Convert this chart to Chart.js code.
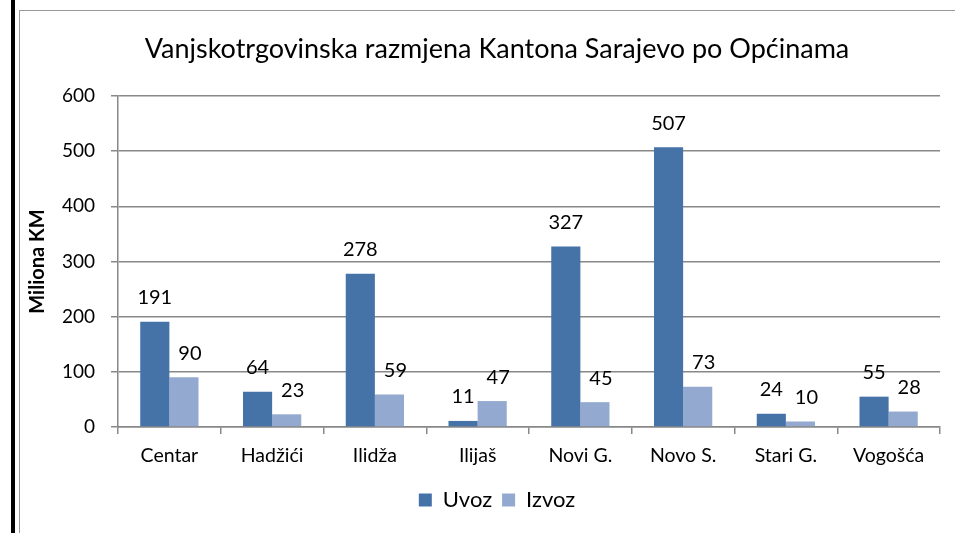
<!DOCTYPE html>
<html lang="bs">
<head>
  <meta charset="UTF-8" />
  <title>Vanjskotrgovinska razmjena Kantona Sarajevo po Općinama</title>
  <script src="https://cdn.jsdelivr.net/npm/chart.js"></script>
  <style>
    html, body { margin: 0; padding: 0; background: #fff; overflow: hidden; }
    .page { position: relative; width: 955px; height: 533px; overflow: hidden; }
    .leftbar { position: absolute; left: 11px; top: 0; width: 4px; height: 533px; background: #000; }
    .frame { position: absolute; left: 19px; top: 10px; width: 960px; height: 560px; border: 1.5px solid #999; }
    /* okvir grafikona ide preko desne ivice, kao u originalu */
    .chart-wrapper { position: absolute; left: 0; top: 0; width: 972px; height: 533px; }
  </style>
</head>
<body>
<div class="page">
  <div class="leftbar"></div>
  <div class="frame"></div>
  <div class="chart-wrapper">
    <canvas id="tradeChart"></canvas>
  </div>
</div>

<script>
// podaci očitani sa grafikona (miliona KM)
const opcine = ["Centar", "Hadžići", "Ilidža", "Ilijaš", "Novi G.", "Novo S.", "Stari G.", "Vogošća"];
const uvoz = [191, 64, 278, 11, 327, 507, 24, 55];
const izvoz = [90, 23, 59, 47, 45, 73, 10, 28];
const yTicks = [0, 100, 200, 300, 400, 500, 600];

const FONT = "Lato, 'Open Sans', sans-serif";

// oznake vrijednosti iznad stubaca
const valueLabels = {
  id: "valueLabels",
  afterDatasetsDraw(chart) {
    const ctx = chart.ctx;
    ctx.save();
    ctx.font = "20px " + FONT;
    ctx.fillStyle = "#000";
    ctx.textAlign = "center";
    ctx.textBaseline = "middle";
    chart.data.datasets.forEach((ds, i) => {
      const meta = chart.getDatasetMeta(i);
      const shift = i === 0 ? 0 : 6;
      meta.data.forEach((bar, j) => {
        ctx.fillText(String(ds.data[j]), bar.x + shift, bar.y - 24);
      });
    });
    ctx.restore();
  }
};

const ctx = document.getElementById("tradeChart").getContext("2d");
new Chart(ctx, {
  type: "bar",
  data: {
    labels: opcine,
    datasets: [
      { label: "Uvoz", data: uvoz, backgroundColor: "#4572A7" },
      { label: "Izvoz", data: izvoz, backgroundColor: "#93A9CF" }
    ]
  },
  options: {
    responsive: true,
    maintainAspectRatio: false,
    animation: false,
    layout: { padding: { top: 10, left: 22, right: 0, bottom: 12 } },
    datasets: { bar: { categoryPercentage: 0.567, barPercentage: 1 } },
    plugins: {
      title: {
        display: true,
        text: "Vanjskotrgovinska razmjena Kantona Sarajevo po Općinama",
        color: "#000",
        font: { family: FONT, size: 27, weight: "normal" },
        padding: { top: 23, bottom: 30.6 }
      },
      legend: {
        position: "bottom",
        labels: {
          color: "#000",
          font: { family: FONT, size: 22 },
          boxWidth: 13,
          boxHeight: 13,
          padding: 10
        }
      },
      tooltip: { enabled: false }
    },
    scales: {
      x: {
        grid: { display: true, drawOnChartArea: false, color: "#888", lineWidth: 1.5, tickLength: 7, offset: true },
        border: { color: "#888", width: 1.5 },
        ticks: { color: "#000", font: { family: FONT, size: 19.5 }, padding: 10, maxRotation: 0 },
        afterFit(scale) { scale.height = 52; }
      },
      y: {
        min: 0,
        max: 600,
        afterBuildTicks(scale) { scale.ticks = yTicks.map(v => ({ value: v })); },
        grid: { color: "#888", lineWidth: 1.5, tickLength: 7 },
        border: { color: "#888", width: 1.5 },
        ticks: { color: "#000", font: { family: FONT, size: 19 }, padding: 16 },
        title: {
          display: true,
          text: "Miliona KM",
          color: "#000",
          font: { family: FONT, size: 20, weight: "bold" },
          padding: { top: 4, bottom: 4 }
        },
        afterFit(scale) { scale.width = 96; }
      },
      // prazan prostor desno od grafikona
      yRight: {
        position: "right",
        min: 0,
        max: 600,
        grid: { display: false },
        border: { display: false },
        ticks: { display: false },
        afterFit(scale) { scale.width = 32; }
      }
    }
  },
  plugins: [valueLabels]
});
</script>
</body>
</html>
